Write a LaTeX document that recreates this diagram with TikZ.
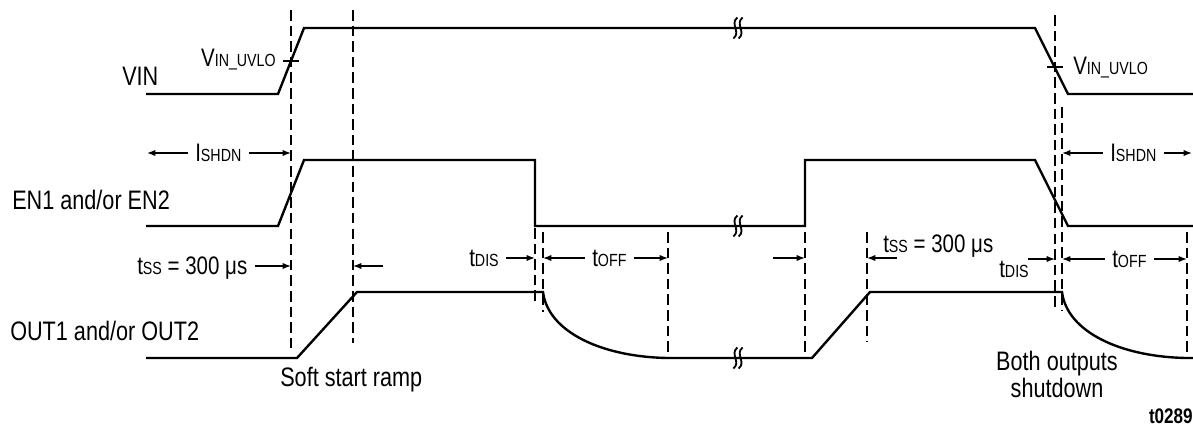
\documentclass[tikz,border=0pt]{standalone}
\usepackage{fontspec}
\setmainfont{Liberation Sans}[FakeStretch=0.81]
\usetikzlibrary{arrows.meta}
\newcommand\subcap[1]{{\fontsize{12.5}{14}\selectfont #1}}
\tikzset{
  wave/.style={line width=1.7pt,line join=miter},
  guide/.style={line width=1.1pt,dash pattern=on 7.5pt off 3.6pt},
  dim/.style={-{Latex[length=6pt,width=4.5pt]},line width=0.9pt,shorten <=5pt},
  sig/.style={font=\fontsize{19}{16}\selectfont,inner sep=0pt,anchor=base west},
  tlbl/.style={font=\fontsize{18}{20}\selectfont,inner sep=0pt,text depth=0pt},
  brk/.pic={
    \foreach \d in {-2.6,2.6}
      \draw[line width=1.3pt] (\d+2,-10.5) .. controls (\d-6,-4) and (\d+6,4) .. (\d-2,10.5);
  },
}
\begin{document}
\begin{tikzpicture}[x=0.025cm,y=-0.025cm]
  \useasboundingbox (0,0) rectangle (1193,429);
  \foreach \x/\a/\b [count=\i] in {291/10/352,353/10/343,535/228/302,543/232/312,
      668/232/358,805/232/352,867/232/342,1055/15/310,1062/107/310,1187/232/358}
    \draw[guide] (\x,\a) coordinate (d\i) -- (\x,\b);

  \draw[wave] (146,94) -- (278,94) -- (304,28) -- (1035,28) -- (1068,94) -- (1193,94);
  \draw[wave] (146,226) -- (278,226) -- (304,160) -- (535,160) -- (535,226) -- (805,226)
    -- (805,160) -- (1035,160) -- (1068,226) -- (1193,226);
  \draw[wave] (146,358) -- (297,358) -- (357,292) -- (543,292)
    .. controls (548,332) and (602,357) .. (668,358) -- (812,358) -- (870,292) -- (1062,292)
    .. controls (1067,332) and (1121,357) .. (1187,358) -- (1193,358);
  \foreach \y in {28,226,358}
    \pic at (738,\y) {brk};
  \draw[line width=1.1pt] (283,61) -- (299,61);
  \draw[line width=1.1pt] (1047,67) -- (1063,67);

  \node[sig] (vin) at (122,85) {VIN};
  \node[sig] (en) at (12,209) {EN1 and/or EN2};
  \node[sig] (out) at (10,340) {OUT1 and/or OUT2};
  \node[tlbl,anchor=base east] (uvL) at (276,66) {V\subcap{IN\_UVLO}};
  \node[tlbl,anchor=base west] (uvR) at (1073,74) {V\subcap{IN\_UVLO}};

  \node[tlbl,anchor=west] (shL) at (195,153) {I\subcap{SHDN}};
  \coordinate (s0) at (147,153);
  \draw[dim] (shL.west) -- (s0);
  \draw[dim] (shL.east) -- (shL.east -| d1);
  \node[tlbl,anchor=west] (shR) at (1110,153) {I\subcap{SHDN}};
  \coordinate (s1) at (1192,153);
  \draw[dim] (shR.west) -- (shR.west -| d9);
  \draw[dim] (shR.east) -- (s1);

  \node[tlbl,anchor=west] (ssL) at (137,266) {t\subcap{SS} = 300 μs};
  \draw[dim] (ssL.east) -- (ssL.east -| d1);
  \coordinate (a2) at (383,266);
  \draw[dim,shorten <=0pt] (a2) -- (a2 -| d2);

  \node[tlbl,anchor=east] (disL) at (499,258) {t\subcap{DIS}};
  \draw[dim] (disL.east) -- (disL.east -| d3);
  \node[tlbl,anchor=west] (offL) at (592,258) {t\subcap{OFF}};
  \draw[dim] (offL.west) -- (offL.west -| d4);
  \draw[dim] (offL.east) -- (offL.east -| d5);

  \coordinate (a6) at (773,258);
  \draw[dim,shorten <=0pt] (a6) -- (a6 -| d6);
  \coordinate (a7) at (897,258);
  \draw[dim,shorten <=0pt] (a7) -- (a7 -| d7);
  \node[tlbl,anchor=base west] (ssR) at (883,252) {t\subcap{SS} = 300 μs};
  \node[tlbl,anchor=base west] (disR) at (999,277) {t\subcap{DIS}};
  \coordinate (a8) at (1028,259);
  \draw[dim,shorten <=0pt] (a8) -- (a8 -| d8);
  \node[tlbl,anchor=west] (offR) at (1112,259) {t\subcap{OFF}};
  \draw[dim] (offR.west) -- (offR.west -| d9);
  \draw[dim] (offR.east) -- (offR.east -| d10);

  \node[sig] (ramp) at (280,386) {Soft start ramp};
  \node[sig,anchor=base,align=center] (shut) at (1057,397) {Both outputs\\shutdown};
  \node[inner sep=0pt,anchor=base east,font=\fontsize{15}{16}\selectfont\bfseries] (tag) at (1193,423) {t0289};
\end{tikzpicture}
\end{document}
